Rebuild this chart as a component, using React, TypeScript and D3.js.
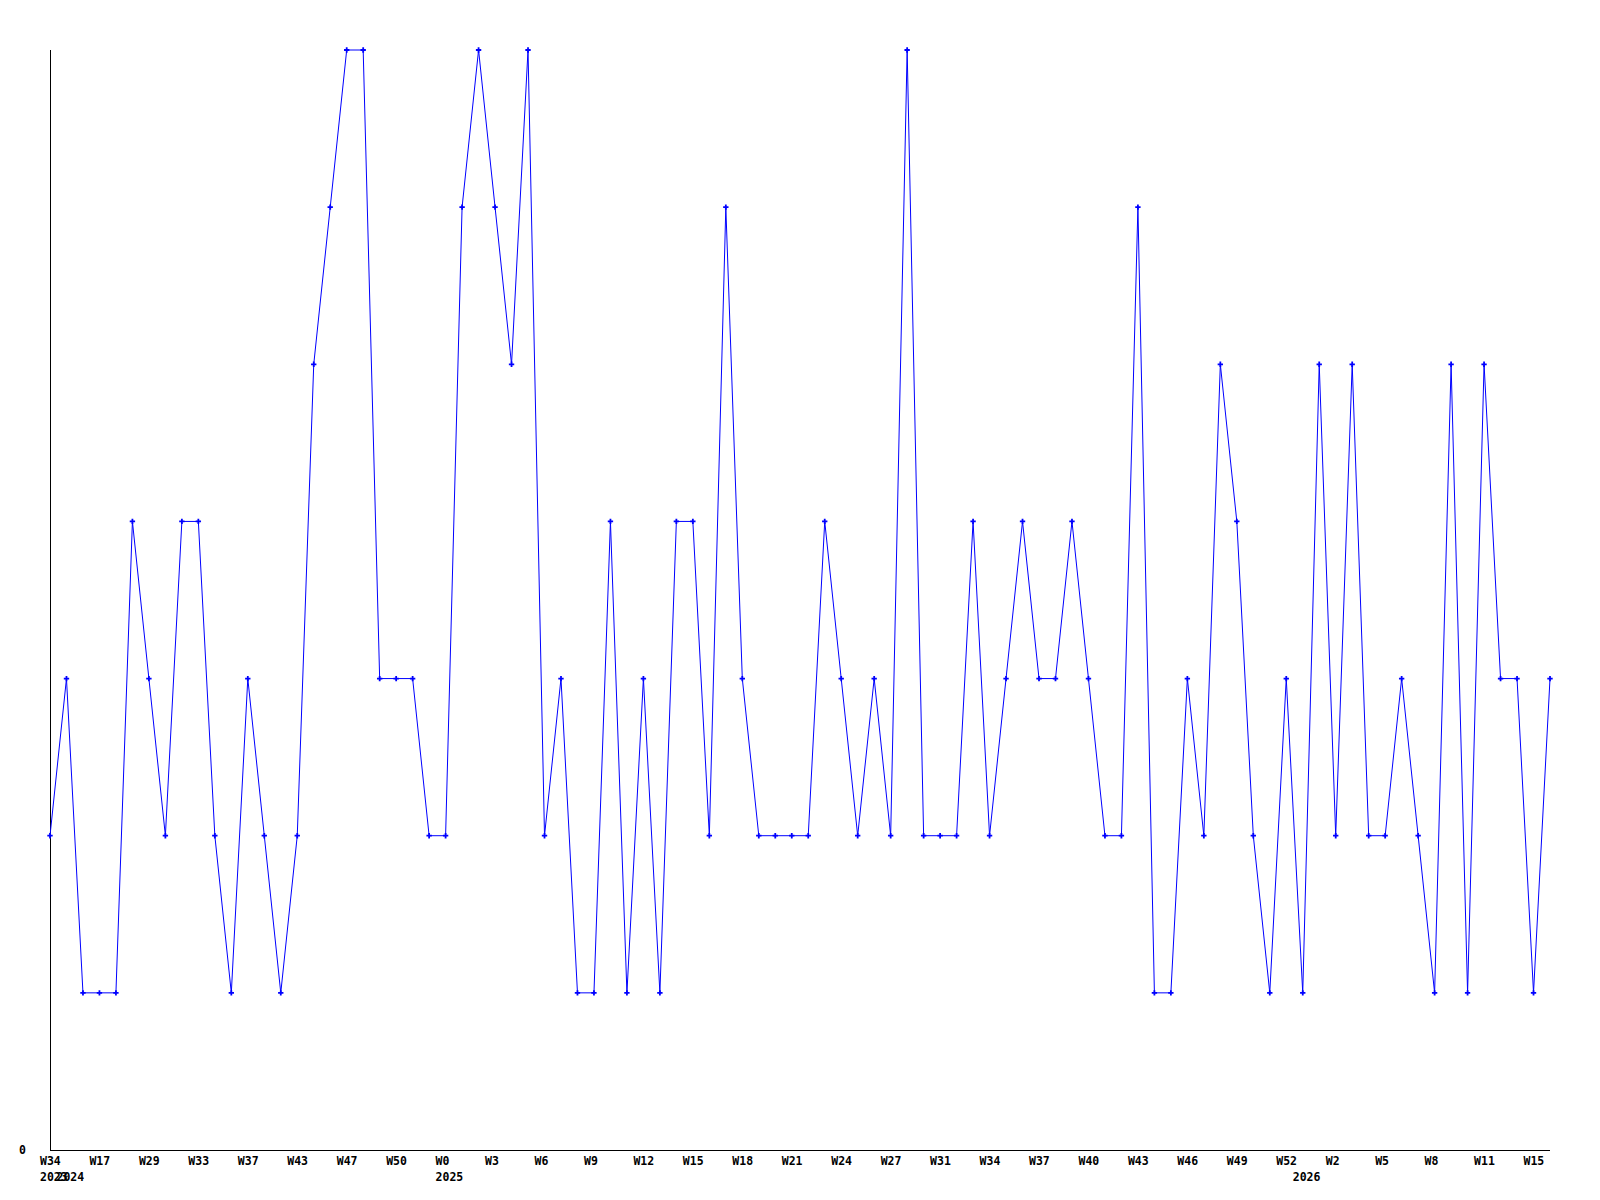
import React from "react";
import * as d3 from "d3";

const values: number[] = [
  2, 3, 1, 1, 1, 4, 3, 2, 4, 4,
  2, 1, 3, 2, 1, 2, 5, 6, 7, 7,
  3, 3, 3, 2, 2, 6, 7, 6, 5, 7,
  2, 3, 1, 1, 4, 1, 3, 1, 4, 4,
  2, 6, 3, 2, 2, 2, 2, 4, 3, 2,
  3, 2, 7, 2, 2, 2, 4, 2, 3, 4,
  3, 3, 4, 3, 2, 2, 6, 1, 1, 3,
  2, 5, 4, 2, 1, 3, 1, 5, 2, 5,
  2, 2, 3, 2, 1, 5, 1, 5, 3, 3,
  1, 3,
];

// week labels shown on every third point
const weekTickLabels: string[] = [
  "W34", "W17", "W29", "W33", "W37", "W43", "W47", "W50",
  "W0", "W3", "W6", "W9", "W12", "W15", "W18", "W21", "W24", "W27",
  "W31", "W34", "W37", "W40", "W43", "W46", "W49", "W52",
  "W2", "W5", "W8", "W11", "W15",
];
const weekTickStep = 3;

// year labels and the index of the point where each year starts
const yearLabels: string[] = ["2023", "2024", "2025", "2026"];
const yearStartIndex: number[] = [0, 1, 24, 76];

const yMax = 7;
const yTickLabels: string[] = ["0"];

const W = 1600;
const H = 1200;
const left = 50;
const right = 1550;
const top = 50;
const bottom = 1150;

export default function App() {
  const idx = values.map((_, i) => i);
  const x = d3.scalePoint<number>().domain(idx).range([left, right]);
  const y = d3.scaleLinear().domain([0, yMax]).range([bottom, top]);
  const line = d3
    .line<number>()
    .x((_, i) => x(i) as number)
    .y((d) => y(d));
  const marker = d3.symbol().type(d3.symbolCross).size(16)();
  const font = "'DejaVu Sans Mono', monospace";

  return (
    <svg
      width={W}
      height={H}
      style={{ position: "absolute", left: 0, top: 0, display: "block", background: "#fff" }}
    >
      <rect x={0} y={0} width={W} height={H} fill="#fff" />
      <line x1={left} y1={top} x2={left} y2={bottom} stroke="#000" strokeWidth={1} shapeRendering="crispEdges" />
      <line x1={left} y1={bottom} x2={right} y2={bottom} stroke="#000" strokeWidth={1} shapeRendering="crispEdges" />
      {yTickLabels.map((t) => (
        <text key={t} x={19} y={y(+t) + 4} fontFamily={font} fontWeight="bold" fontSize={11.5} fill="#000">
          {t}
        </text>
      ))}
      {weekTickLabels.map((t, k) => (
        <text
          key={"w" + k}
          x={(x(k * weekTickStep) as number) - 10}
          y={1165}
          fontFamily={font}
          fontWeight="bold"
          fontSize={11.5}
          fill="#000"
        >
          {t}
        </text>
      ))}
      {yearLabels.map((t, k) => (
        <text
          key={"y" + k}
          x={(x(yearStartIndex[k]) as number) - 10}
          y={1181}
          fontFamily={font}
          fontWeight="bold"
          fontSize={11.5}
          fill="#000"
        >
          {t}
        </text>
      ))}
      <path d={line(values) || ""} fill="none" stroke="#0000ff" strokeWidth={1} />
      {values.map((v, i) => (
        <path key={i} d={marker || ""} transform={`translate(${x(i)},${y(v)})`} fill="#0000ff" />
      ))}
    </svg>
  );
}
